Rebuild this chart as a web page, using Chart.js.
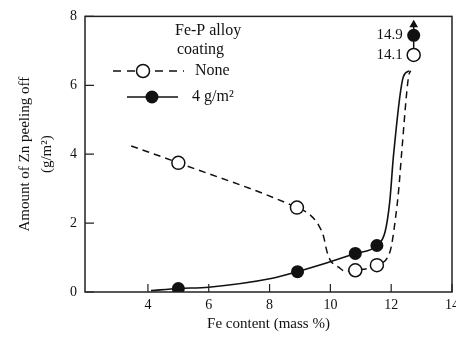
<!DOCTYPE html>
<html>
<head>
<meta charset="utf-8">
<script src="https://cdn.jsdelivr.net/npm/chart.js@4/dist/chart.umd.min.js"></script>
<style>
  html, body { margin: 0; padding: 0; background: #fff; }
</style>
</head>
<body>
<canvas id="chart" width="456" height="348"></canvas>
<script>
// Axis ticks
const xTicks = [4, 6, 8, 10, 12, 14];
const yTicks = [0, 2, 4, 6, 8];

// Measured points (Fe content, Zn peeling off)
const noneX = [5, 8.9, 10.82, 11.53];
const noneY = [3.75, 2.45, 0.63, 0.78];
const coatX = [5, 8.92, 10.82, 11.53];
const coatY = [0.1, 0.59, 1.12, 1.35];

// Off-scale points at 12.74 % (real values written as labels)
const offX = 12.74;
const offY = [6.88, 7.45];
const offLabels = ['14.1', '14.9'];
const offArrowY = 7.76;

// Hand-traced curves
const noneCurveX = [3.45, 5, 8.9, 9.29, 9.62, 9.78, 9.88, 10.0, 10.27, 10.5, 10.82, 11.53, 11.97, 12.15, 12.25, 12.35, 12.57, 12.64];
const noneCurveY = [4.24, 3.75, 2.45, 2.27, 1.93, 1.6, 1.2, 0.92, 0.72, 0.6, 0.63, 0.78, 1.2, 2.2, 3.0, 4.1, 6.25, 6.42];
const coatCurveX = [4.1, 5, 6, 8.05, 8.92, 10.82, 11.53, 11.8, 11.95, 12.08, 12.4, 12.6];
const coatCurveY = [0.04, 0.1, 0.14, 0.39, 0.59, 1.12, 1.35, 1.75, 2.6, 4.0, 6.25, 6.42];

const FONT = "'Liberation Serif', 'DejaVu Serif', serif";
const INK = '#111';

const pts = (xs, ys) => xs.map((x, i) => ({ x: x, y: ys[i] }));

// frame, inward ticks, legend and off-scale labels
const extras = {
    id: 'extras',
    afterDraw(chart) {
        const { ctx, chartArea: a, scales } = chart;
        ctx.save();
        ctx.strokeStyle = '#222';
        ctx.lineWidth = 1.5;
        ctx.strokeRect(a.left, a.top, a.right - a.left, a.bottom - a.top);

        ctx.lineWidth = 1.2;
        ctx.beginPath();
        xTicks.forEach(v => {
            const px = scales.x.getPixelForValue(v);
            ctx.moveTo(px, a.bottom);
            ctx.lineTo(px, a.bottom - 8);
        });
        yTicks.forEach(v => {
            const py = scales.y.getPixelForValue(v);
            ctx.moveTo(a.left, py);
            ctx.lineTo(a.left + 9, py);
        });
        ctx.stroke();

        // legend
        ctx.fillStyle = INK;
        ctx.font = '16px ' + FONT;
        ctx.textBaseline = 'middle';
        ctx.textAlign = 'left';
        ctx.fillText('Fe-P alloy', 175, 31);
        ctx.fillText('coating', 177, 50);
        ctx.fillText('None', 195, 71);
        ctx.fillText('4 g/m²', 192, 97);

        ctx.strokeStyle = INK;
        ctx.lineWidth = 1.5;
        ctx.setLineDash([8, 6]);
        ctx.beginPath();
        ctx.moveTo(113, 71);
        ctx.lineTo(184, 71);
        ctx.stroke();
        ctx.setLineDash([]);
        ctx.beginPath();
        ctx.arc(143, 71, 6.5, 0, Math.PI * 2);
        ctx.fillStyle = '#fff';
        ctx.fill();
        ctx.stroke();

        ctx.beginPath();
        ctx.moveTo(127, 97);
        ctx.lineTo(178, 97);
        ctx.stroke();
        ctx.beginPath();
        ctx.arc(152, 97, 6.5, 0, Math.PI * 2);
        ctx.fillStyle = INK;
        ctx.fill();

        // off-scale values
        ctx.font = '15px ' + FONT;
        ctx.textAlign = 'right';
        offLabels.forEach((t, i) => {
            ctx.fillText(t, scales.x.getPixelForValue(offX) - 11, scales.y.getPixelForValue(offY[i]));
        });
        ctx.restore();
    }
};

new Chart(document.getElementById('chart'), {
    type: 'scatter',
    data: {
        datasets: [
            {
                data: pts(noneCurveX, noneCurveY),
                showLine: true,
                borderColor: INK,
                borderWidth: 1.5,
                borderDash: [7, 5],
                cubicInterpolationMode: 'monotone',
                pointRadius: 0,
                order: 3
            },
            {
                data: pts(coatCurveX, coatCurveY),
                showLine: true,
                borderColor: INK,
                borderWidth: 1.6,
                cubicInterpolationMode: 'monotone',
                pointRadius: 0,
                order: 3
            },
            {
                // stem joining the two off-scale points, arrow above
                data: [{ x: offX, y: offY[0] }, { x: offX, y: offArrowY }],
                showLine: true,
                borderColor: INK,
                borderWidth: 1.5,
                pointRadius: [0, 3.5],
                pointStyle: 'triangle',
                backgroundColor: INK,
                order: 2
            },
            {
                data: pts(noneX, noneY).concat([{ x: offX, y: offY[0] }]),
                pointRadius: 6.5,
                pointBorderWidth: 1.5,
                borderColor: INK,
                backgroundColor: '#fff',
                order: 1
            },
            {
                data: pts(coatX, coatY).concat([{ x: offX, y: offY[1] }]),
                pointRadius: 6.5,
                pointBorderWidth: 0,
                borderColor: INK,
                backgroundColor: INK,
                order: 0
            }
        ]
    },
    options: {
        responsive: false,
        animation: false,
        devicePixelRatio: 1,
        layout: { autoPadding: false, padding: { top: 14, right: 4, left: 0, bottom: 0 } },
        plugins: {
            legend: { display: false },
            tooltip: { enabled: false }
        },
        scales: {
            x: {
                type: 'linear',
                min: 1.93,
                max: 14,
                afterBuildTicks: s => { s.ticks = xTicks.map(v => ({ value: v })); },
                afterFit: s => { s.height = 56; s.paddingRight = 0; },
                grid: { display: false, drawTicks: false },
                border: { display: false },
                ticks: { color: INK, padding: 5, font: { family: FONT, size: 14 } },
                title: {
                    display: true,
                    text: 'Fe content (mass %)',
                    color: INK,
                    font: { family: FONT, size: 15 },
                    padding: { top: 0, bottom: 15 }
                }
            },
            y: {
                type: 'linear',
                min: 0,
                max: 8,
                afterBuildTicks: s => { s.ticks = yTicks.map(v => ({ value: v })); },
                afterFit: s => { s.width = 85; },
                grid: { display: false, drawTicks: false },
                border: { display: false },
                ticks: { color: INK, padding: 8, font: { family: FONT, size: 14 } },
                title: {
                    display: true,
                    text: ['Amount of Zn peeling off', '(g/m²)'],
                    color: INK,
                    font: { family: FONT, size: 15, lineHeight: 1.47 },
                    padding: { top: 14, bottom: 0 }
                }
            }
        }
    },
    plugins: [extras]
});
</script>
</body>
</html>
